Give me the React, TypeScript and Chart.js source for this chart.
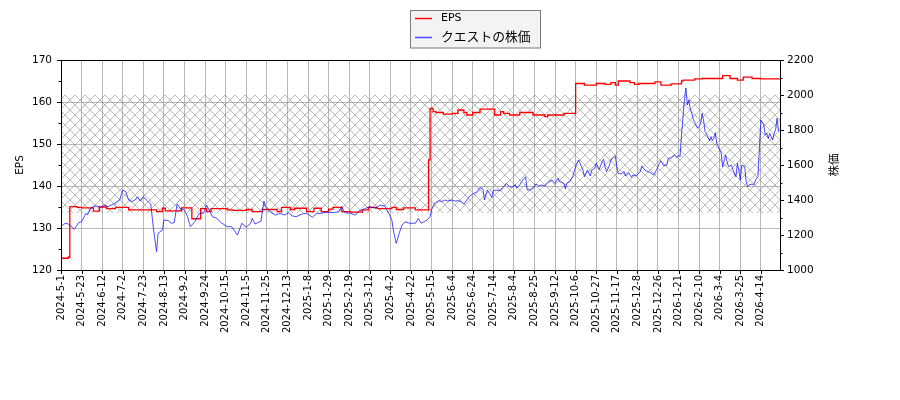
import React, { useEffect, useRef } from 'react';
import { Chart, registerables } from 'chart.js';
Chart.register(...registerables);

// trading-day index of each x tick (every 14 trading days) and its label
const xTickLabels = [
  '2024-5-1', '2024-5-23', '2024-6-12', '2024-7-2', '2024-7-23', '2024-8-13', '2024-9-2',
  '2024-9-24', '2024-10-15', '2024-11-5', '2024-11-25', '2024-12-13', '2025-1-8', '2025-1-29',
  '2025-2-19', '2025-3-12', '2025-4-2', '2025-4-22', '2025-5-15', '2025-6-4', '2025-6-24',
  '2025-7-14', '2025-8-4', '2025-8-25', '2025-9-12', '2025-10-6', '2025-10-27', '2025-11-17',
  '2025-12-8', '2025-12-26', '2026-1-21', '2026-2-10', '2026-3-4', '2026-3-25', '2026-4-14',
];
const tickStep = 14;
const lastDay = 489;

// EPS (left axis), stepwise: day where each level starts
const epsDays = [
  0, 5, 6, 11, 14, 22, 26, 31, 37, 46, 65, 69, 71, 82, 89, 95, 99, 102, 113, 117, 126, 130,
  137, 147, 150, 156, 159, 167, 172, 177, 182, 185, 191, 197, 205, 209, 215, 225, 228, 233,
  241, 250, 251, 253, 255, 260, 266, 270, 274, 276, 280, 285, 295, 299, 301, 305, 312, 321,
  329, 331, 342, 350, 356, 364, 370, 374, 377, 379, 387, 390, 393, 404, 408, 415, 422, 423,
  431, 436, 450, 455, 460, 464, 470, 476, 489,
];
const epsValues = [
  122.8, 123.1, 135.1, 134.9, 134.8, 134.0, 135.0, 134.6, 134.9, 134.3, 133.9, 134.7, 134.1,
  134.8, 132.2, 134.6, 133.9, 134.6, 134.3, 134.2, 134.4, 133.9, 134.4, 133.9, 134.9, 134.4,
  134.7, 133.9, 134.7, 133.9, 134.5, 134.9, 133.9, 133.8, 134.3, 134.9, 134.6, 134.9, 134.4,
  134.8, 134.3, 146.2, 158.5, 157.7, 157.5, 157.1, 157.3, 158.1, 157.5, 156.9, 157.5, 158.3,
  156.9, 157.7, 157.3, 156.9, 157.5, 156.9, 156.5, 156.9, 157.3, 164.4, 164.0, 164.4, 164.2,
  164.6, 164.0, 165.0, 164.6, 164.2, 164.4, 164.8, 164.0, 164.3, 165.0, 165.2, 165.5, 165.6,
  166.3, 165.6, 165.2, 165.9, 165.6, 165.5, 165.5,
];

// share price (right axis)
const priceDays = [
  0, 2, 4, 6, 9, 12, 14, 17, 18, 20, 22, 24, 27, 29, 32, 36, 38, 40, 42, 44, 46, 48, 51, 52,
  54, 56, 58, 61, 63, 65, 66, 69, 70, 73, 75, 77, 79, 81, 84, 86, 88, 91, 94, 97, 99, 103,
  106, 109, 113, 116, 120, 123, 126, 129, 130, 132, 136, 138, 139, 142, 146, 149, 152, 155,
  157, 160, 164, 167, 171, 174, 177, 181, 185, 189, 191, 193, 197, 200, 203, 207, 210, 214,
  217, 220, 223, 225, 226, 228, 230, 232, 234, 237, 241, 243, 245, 249, 251, 252, 254, 257,
  259, 261, 263, 266, 268, 270, 272, 274, 276, 278, 280, 283, 285, 287, 288, 290, 292, 293,
  294, 296, 299, 301, 303, 304, 306, 309, 310, 312, 314, 316, 317, 319, 321, 323, 325, 327,
  329, 331, 334, 336, 338, 339, 342, 343, 344, 346, 348, 350, 352, 353, 355, 356, 358, 360,
  361, 363, 364, 366, 368, 369, 370, 371, 373, 374, 376, 377, 378, 379, 381, 383, 384, 386,
  388, 389, 391, 394, 395, 397, 399, 401, 403, 405, 407, 408, 410, 412, 413, 415, 417, 419,
  420, 421, 422, 424, 425, 426, 427, 428, 429, 430, 431, 433, 435, 436, 437, 438, 439, 441,
  442, 443, 444, 445, 446, 448, 449, 450, 452, 453, 454, 456, 457, 459, 460, 461, 462, 463,
  465, 466, 467, 468, 470, 471, 473, 474, 475, 476, 478, 479, 480, 481, 482, 484, 485, 486,
  487, 488,
];
const priceValues = [
  1248, 1263, 1267, 1257, 1232, 1270, 1276, 1324, 1314, 1352, 1362, 1366, 1358, 1371, 1362,
  1378, 1390, 1404, 1457, 1448, 1400, 1390, 1404, 1419, 1394, 1419, 1400, 1378, 1229, 1105,
  1210, 1229, 1286, 1282, 1267, 1270, 1378, 1352, 1343, 1305, 1248, 1276, 1324, 1324, 1371,
  1305, 1295, 1270, 1248, 1248, 1200, 1267, 1244, 1267, 1295, 1263, 1279, 1394, 1362, 1333,
  1314, 1324, 1314, 1328, 1309, 1305, 1320, 1324, 1302, 1324, 1324, 1331, 1328, 1333, 1362,
  1328, 1324, 1314, 1337, 1352, 1362, 1352, 1371, 1366, 1324, 1286, 1229, 1152, 1210, 1257,
  1276, 1267, 1267, 1295, 1267, 1286, 1305, 1343, 1381, 1396, 1391, 1400, 1394, 1400, 1394,
  1396, 1391, 1377, 1400, 1423, 1434, 1448, 1472, 1461, 1400, 1457, 1429, 1414, 1453, 1457,
  1453, 1476, 1495, 1483, 1472, 1486, 1467, 1486, 1514, 1533, 1457, 1457, 1467, 1491, 1480,
  1486, 1480, 1499, 1514, 1495, 1524, 1505, 1495, 1463, 1495, 1505, 1533, 1590, 1629, 1610,
  1571, 1533, 1571, 1537, 1571, 1581, 1610, 1575, 1619, 1633, 1590, 1562, 1600, 1629, 1642,
  1651, 1590, 1552, 1549, 1562, 1537, 1556, 1529, 1543, 1537, 1562, 1595, 1571, 1562, 1556,
  1543, 1571, 1610, 1624, 1595, 1600, 1638, 1642, 1657, 1642, 1657, 1648, 1771, 1971, 2040,
  1943, 1971, 1918, 1895, 1861, 1842, 1810, 1833, 1895, 1857, 1791, 1779, 1739, 1762, 1739,
  1752, 1785, 1724, 1686, 1667, 1590, 1657, 1619, 1590, 1600, 1571, 1533, 1610, 1571, 1514,
  1600, 1590, 1505, 1476, 1486, 1491, 1486, 1524, 1533, 1695, 1857, 1829, 1771, 1781, 1752,
  1781, 1743, 1781, 1800, 1867, 1791,
];

// hatched band, in share-price units
const hatchBand = [1325, 2000];

const FONT = '"DejaVu Sans", "Noto Sans CJK JP", sans-serif';
const BLUE = 'rgba(0,0,255,0.7)';
const RED = '#ff0000';

const makeHatch = (ctx: CanvasRenderingContext2D) => {
  const s = 10;
  const c = document.createElement('canvas');
  c.width = s;
  c.height = s;
  const g = c.getContext('2d')!;
  g.strokeStyle = 'rgba(128,128,128,0.6)';
  g.lineWidth = 0.9;
  g.beginPath();
  for (const o of [-s, 0, s]) {
    g.moveTo(o, 0);
    g.lineTo(o + s, s);
    g.moveTo(o + s, 0);
    g.lineTo(o, s);
  }
  g.stroke();
  return ctx.createPattern(c, 'repeat');
};

const decorPlugin = {
  id: 'decor',
  beforeDatasetsDraw(chart: any) {
    const { ctx, chartArea: a, scales } = chart;
    const yTop = scales.y1.getPixelForValue(hatchBand[1]);
    const yBot = scales.y1.getPixelForValue(hatchBand[0]);
    ctx.save();
    ctx.beginPath();
    ctx.rect(a.left, a.top, a.right - a.left, a.bottom - a.top);
    ctx.clip();
    ctx.fillStyle = makeHatch(ctx);
    ctx.fillRect(a.left, yTop, a.right - a.left, yBot - yTop);
    ctx.restore();
  },
  afterDraw(chart: any) {
    const { ctx, chartArea: a, scales } = chart;
    ctx.save();
    ctx.strokeStyle = '#000';
    ctx.lineWidth = 1;
    // tick marks
    ctx.beginPath();
    for (let v = 120; v <= 170; v += 5) {
      const y = Math.round(scales.y.getPixelForValue(v)) + 0.5;
      const len = v % 10 === 0 ? 4 : 2.5;
      ctx.moveTo(a.left - len, y);
      ctx.lineTo(a.left, y);
    }
    for (let v = 1000; v <= 2200; v += 100) {
      const y = Math.round(scales.y1.getPixelForValue(v)) + 0.5;
      const len = v % 200 === 0 ? 4 : 2.5;
      ctx.moveTo(a.right, y);
      ctx.lineTo(a.right + len, y);
    }
    xTickLabels.forEach((_, i) => {
      const x = Math.round(scales.x.getPixelForValue(i * tickStep)) + 0.5;
      ctx.moveTo(x, a.bottom);
      ctx.lineTo(x, a.bottom + 4);
    });
    ctx.stroke();
    // frame
    ctx.strokeRect(Math.round(a.left) + 0.5, Math.round(a.top) + 0.5,
      Math.round(a.right - a.left), Math.round(a.bottom - a.top));

    // axis titles
    ctx.fillStyle = '#000';
    ctx.font = `10.5px ${FONT}`;
    ctx.textAlign = 'center';
    ctx.textBaseline = 'middle';
    const midY = (a.top + a.bottom) / 2;
    ctx.save();
    ctx.translate(20, midY);
    ctx.rotate(-Math.PI / 2);
    ctx.fillText('EPS', 0, 0);
    ctx.restore();
    ctx.save();
    ctx.translate(835, midY);
    ctx.rotate(-Math.PI / 2);
    ctx.font = `11.5px ${FONT}`;
    ctx.fillText('株価', 0, 0);
    ctx.restore();

    // legend
    ctx.fillStyle = 'rgba(242,242,242,0.95)';
    ctx.strokeStyle = '#7a7a7a';
    ctx.fillRect(410.5, 10.5, 130, 37.5);
    ctx.strokeRect(410.5, 10.5, 130, 37.5);
    const items = [
      { label: 'EPS', color: RED, y: 18.5, size: 11 },
      { label: 'クエストの株価', color: BLUE, y: 37.5, size: 12.8 },
    ];
    ctx.textAlign = 'left';
    ctx.lineWidth = 1.5;
    for (const it of items) {
      ctx.strokeStyle = it.color;
      ctx.beginPath();
      ctx.moveTo(415, it.y);
      ctx.lineTo(432, it.y);
      ctx.stroke();
      ctx.fillStyle = '#000';
      ctx.font = `${it.size}px ${FONT}`;
      ctx.fillText(it.label, 441, it.y);
    }
    ctx.restore();
  },
};

const App: React.FC = () => {
  const chartRef = useRef<HTMLCanvasElement>(null);

  useEffect(() => {
    document.body.style.margin = '0';
    if (!chartRef.current) return;

    const tickFont = { family: FONT, size: 10.5 };
    const gridColor = '#b8b8b8';

    const chart = new Chart(chartRef.current, {
      type: 'line',
      data: {
        datasets: [
          {
            label: 'クエストの株価',
            data: priceDays.map((d, i) => ({ x: d, y: priceValues[i] })),
            yAxisID: 'y1',
            borderColor: BLUE,
            borderWidth: 1,
            pointRadius: 0,
            tension: 0,
            order: 0,
          },
          {
            label: 'EPS',
            data: epsDays.map((d, i) => ({ x: d, y: epsValues[i] })),
            yAxisID: 'y',
            borderColor: RED,
            borderWidth: 1.3,
            pointRadius: 0,
            stepped: 'before',
            order: 1,
          },
        ],
      },
      options: {
        responsive: false,
        animation: false,
        devicePixelRatio: 1,
        layout: { padding: { top: 60, left: 0, right: 0, bottom: 0 } },
        plugins: { legend: { display: false }, tooltip: { enabled: false } },
        scales: {
          x: {
            type: 'linear',
            min: 0,
            max: lastDay,
            afterBuildTicks: (scale: any) => {
              scale.ticks = xTickLabels.map((_, i) => ({ value: i * tickStep }));
            },
            afterFit: (scale: any) => { scale.height = 130; },
            ticks: {
              autoSkip: false,
              minRotation: 90,
              maxRotation: 90,
              padding: 5,
              color: '#000',
              font: { family: FONT, size: 10 },
              callback: (v: any) => xTickLabels[Math.round(Number(v) / tickStep)] ?? '',
            },
            grid: { color: gridColor, drawTicks: false },
            border: { display: false },
          },
          y: {
            position: 'left',
            min: 120,
            max: 170,
            afterBuildTicks: (scale: any) => {
              const t = [];
              for (let v = 120; v <= 170; v += 5) t.push({ value: v });
              scale.ticks = t;
            },
            afterFit: (scale: any) => { scale.width = 61; },
            ticks: {
              padding: 9,
              color: '#000',
              font: tickFont,
              callback: (v: any) => (Number(v) % 10 === 0 ? String(v) : ''),
            },
            grid: {
              drawTicks: false,
              color: (c: any) => (c.tick && c.tick.value % 10 === 0 ? gridColor : 'rgba(0,0,0,0)'),
            },
            border: { display: false },
          },
          y1: {
            position: 'right',
            min: 1000,
            max: 2200,
            afterBuildTicks: (scale: any) => {
              const t = [];
              for (let v = 1000; v <= 2200; v += 100) t.push({ value: v });
              scale.ticks = t;
            },
            afterFit: (scale: any) => { scale.width = 120; },
            ticks: {
              padding: 7,
              color: '#000',
              font: tickFont,
              callback: (v: any) => (Number(v) % 200 === 0 ? String(v) : ''),
            },
            grid: { drawTicks: false, drawOnChartArea: false },
            border: { display: false },
          },
        },
      },
      plugins: [decorPlugin],
    });

    return () => {
      chart.destroy();
    };
  }, []);

  return (
    <div style={{ width: 900, height: 400 }}>
      <canvas ref={chartRef} width={900} height={400}></canvas>
    </div>
  );
};

export default App;
